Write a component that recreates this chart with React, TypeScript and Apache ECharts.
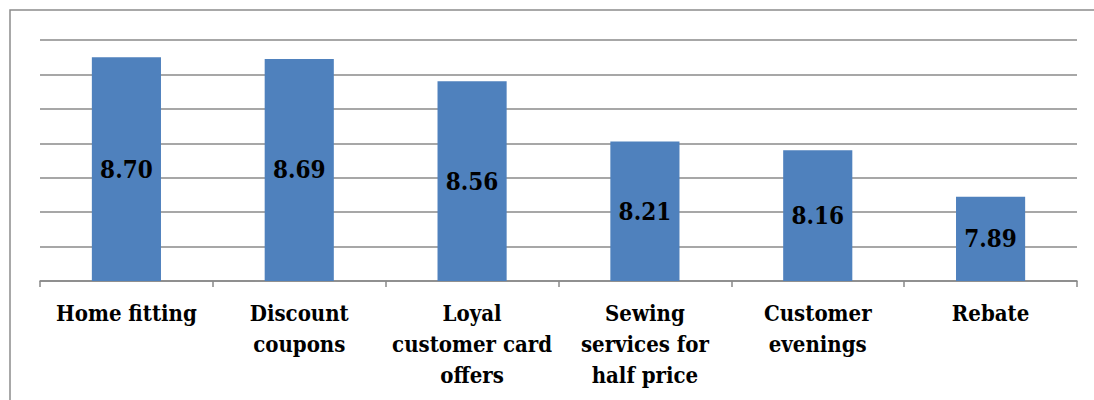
import React, { useEffect, useRef } from "react";
import * as echarts from "echarts";

const categories = [
  "Home fitting",
  "Discount coupons",
  "Loyal customer card offers",
  "Sewing services for half price",
  "Customer evenings",
  "Rebate",
];
const wrappedLabels = [
  "Home fitting",
  "Discount\ncoupons",
  "Loyal\ncustomer card\noffers",
  "Sewing\nservices for\nhalf price",
  "Customer\nevenings",
  "Rebate",
];
const values = [8.7, 8.69, 8.56, 8.21, 8.16, 7.89];
const yMin = 7.4;
const yMax = 8.8;
const yInterval = 0.2;

export default function App() {
  const ref = useRef<HTMLDivElement>(null);
  useEffect(() => {
    if (!ref.current) return;
    const chart = echarts.init(ref.current, undefined, { renderer: "svg" });
    const font = "DejaVu Serif Condensed";
    chart.setOption({
      animation: false,
      backgroundColor: "#ffffff",
      grid: { left: 40, right: 17, top: 40, bottom: 119, containLabel: false },
      graphic: [
        {
          type: "rect",
          shape: { x: 10, y: 10, width: 1200, height: 500 },
          style: { fill: "none", stroke: "#8c8c8c", lineWidth: 1.5 },
          silent: true,
          z: -1,
        },
      ],
      xAxis: {
        type: "category",
        data: categories,
        axisLine: { lineStyle: { color: "#888888", width: 1.5 } },
        axisTick: { show: true, length: 6, lineStyle: { color: "#888888", width: 1.5 } },
        axisLabel: {
          interval: 0,
          margin: 16,
          color: "#000000",
          fontFamily: font,
          fontWeight: "bold",
          fontSize: 22,
          lineHeight: 31,
          formatter: (_v: string, i: number) => wrappedLabels[i],
        },
      },
      yAxis: {
        type: "value",
        min: yMin,
        max: yMax,
        interval: yInterval,
        axisLine: { show: false },
        axisTick: { show: false },
        axisLabel: { show: false },
        splitLine: { lineStyle: { color: "#8a8a8a", width: 1.5 } },
      },
      series: [
        {
          type: "bar",
          data: values,
          barWidth: "40%",
          itemStyle: { color: "#4F81BD" },
          label: {
            show: true,
            position: "inside",
            color: "#000000",
            fontFamily: font,
            fontWeight: "bold",
            fontSize: 24,
            formatter: (p: any) => Number(p.value).toFixed(2),
          },
        },
      ],
    });
    return () => chart.dispose();
  }, []);
  return (
    <div
      ref={ref}
      style={{ position: "fixed", left: 0, top: 0, width: 1094, height: 400 }}
    />
  );
}
